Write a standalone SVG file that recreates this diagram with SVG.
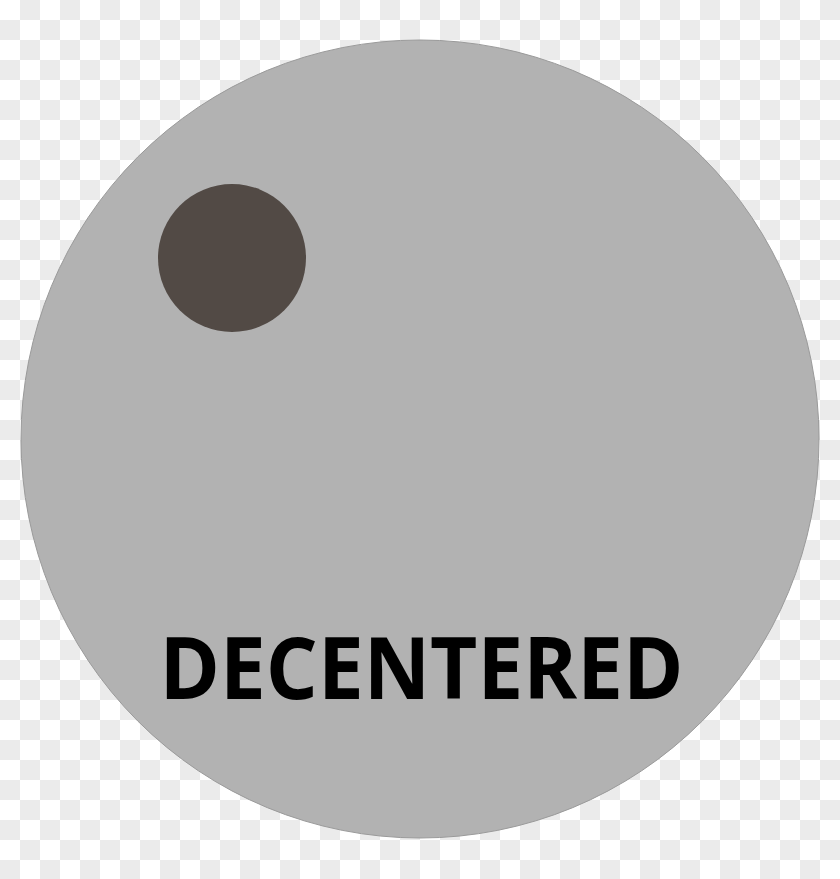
<svg xmlns="http://www.w3.org/2000/svg" width="840" height="879" viewBox="0 0 840 879">
<defs>
<pattern id="chk" x="0" y="0" width="40" height="40" patternUnits="userSpaceOnUse">
<rect width="40" height="40" fill="#ffffff"/>
<rect x="20" y="0" width="20" height="20" fill="#ebebeb"/>
<rect x="0" y="20" width="20" height="20" fill="#ebebeb"/>
</pattern>
<style>
.disk{fill:#b2b2b2;stroke:#9a9a9a;stroke-width:1}
.dot{fill:#524a45}
.lbl{font-family:"Open Sans","Noto Sans",sans-serif;font-weight:bold;font-size:86px;fill:#000;text-anchor:middle}
</style>
</defs>
<rect width="840" height="879" fill="url(#chk)"/>
<g id="disk"><circle class="disk" cx="420" cy="439" r="399"/></g>
<g id="dot"><circle class="dot" cx="232" cy="258" r="74"/></g>
<g id="label"><text class="lbl" x="421.5" y="699" textLength="524" lengthAdjust="spacingAndGlyphs">DECENTERED</text></g>
</svg>
